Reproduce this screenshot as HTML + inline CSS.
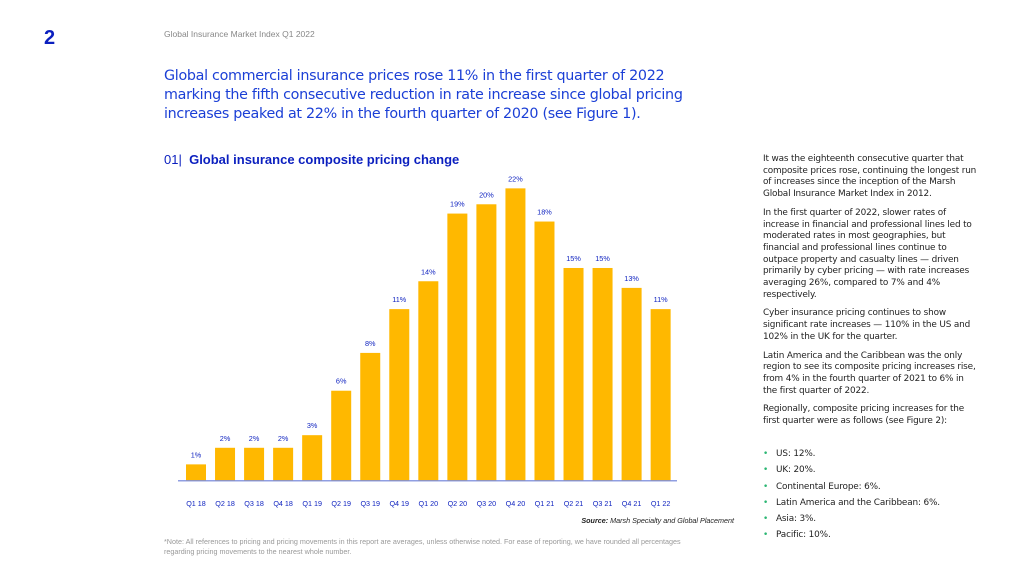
<!DOCTYPE html>
<html><head><meta charset="utf-8"><style>
body{margin:0;width:1024px;height:576px;background:#fff;font-family:"Liberation Sans","DejaVu Sans",sans-serif;position:relative;overflow:hidden}
.a{position:absolute}
#side p{margin:0 0 7px 0}
#side{left:763px;top:154px;width:216px;font-size:8.9px;line-height:11.7px;color:#222;font-family:"DejaVu Sans",sans-serif;letter-spacing:-0.15px}
#side ul{list-style:none;margin:0;padding:0;position:absolute;top:295px;left:0}
#side li{height:16.3px;position:relative;padding-left:13px}
#side li::before{content:"•";color:#2bb673;position:absolute;left:0}
</style></head><body>
<div class="a" style="left:44px;top:27px;font-size:20px;font-weight:bold;color:#0b1fbf">2</div>
<div class="a" style="left:164px;top:29px;font-size:8.5px;color:#888">Global Insurance Market Index Q1 2022</div>
<div class="a" style="left:164px;top:67px;width:545px;font-size:14.3px;line-height:18.8px;color:#1b3fd6;font-family:'DejaVu Sans',sans-serif;letter-spacing:-0.3px">Global commercial insurance prices rose 11% in the first quarter of 2022 marking the fifth consecutive reduction in rate increase since global pricing increases peaked at 22% in the fourth quarter of 2020 (see Figure 1).</div>
<div class="a" style="left:164px;top:152px;font-size:13px;color:#0b1fbf"><span style="font-weight:normal">01|</span> &nbsp;<b>Global insurance composite pricing change</b></div>
<svg class="a" id="chart" style="left:0;top:0" width="760" height="576"></svg>
<div class="a" style="left:540px;top:516px;width:194px;text-align:right;font-size:7.2px;font-style:italic;color:#222"><b>Source:</b> Marsh Specialty and Global Placement</div>
<div class="a" style="left:164px;top:537px;width:535px;font-size:7.2px;line-height:9.5px;color:#999">*Note: All references to pricing and pricing movements in this report are averages, unless otherwise noted. For ease of reporting, we have rounded all percentages regarding pricing movements to the nearest whole number.</div>
<div class="a" id="side">
<p>It was the eighteenth consecutive quarter that composite prices rose, continuing the longest run of increases since the inception of the Marsh Global Insurance Market Index in 2012.</p>
<p>In the first quarter of 2022, slower rates of increase in financial and professional lines led to moderated rates in most geographies, but financial and professional lines continue to outpace property and casualty lines — driven primarily by cyber pricing — with rate increases averaging 26%, compared to 7% and 4% respectively.</p>
<p>Cyber insurance pricing continues to show significant rate increases — 110% in the US and 102% in the UK for the quarter.</p>
<p>Latin America and the Caribbean was the only region to see its composite pricing increases rise, from 4% in the fourth quarter of 2021 to 6% in the first quarter of 2022.</p>
<p>Regionally, composite pricing increases for the first quarter were as follows (see Figure 2):</p>
<ul>
<li>US: 12%.</li><li>UK: 20%.</li><li>Continental Europe: 6%.</li><li>Latin America and the Caribbean: 6%.</li><li>Asia: 3%.</li><li>Pacific: 10%.</li></ul>
</div>
<script>
const categories=["Q1 18","Q2 18","Q3 18","Q4 18","Q1 19","Q2 19","Q3 19","Q4 19","Q1 20","Q2 20","Q3 20","Q4 20","Q1 21","Q2 21","Q3 21","Q4 21","Q1 22"];
const values=[1.2,2.45,2.45,2.45,3.4,6.75,9.6,12.9,15.0,20.1,20.8,22,19.5,16.0,16.0,14.5,12.9];
const valueLabels=["1%","2%","2%","2%","3%","6%","8%","11%","14%","19%","20%","22%","18%","15%","15%","13%","11%"];
const baseY=480.3, pxPer=13.27, x0=186, pitch=29.04, bw=20;
const y=v=>baseY-v*pxPer, x=i=>x0+i*pitch;
const svg=document.getElementById('chart'), NS='http://www.w3.org/2000/svg';
function mk(t,a){const e=document.createElementNS(NS,t);for(const k in a)e.setAttribute(k,a[k]);svg.appendChild(e);return e;}
values.forEach((v,i)=>{
 const r=mk('rect',{x:x(i),y:y(v),width:bw,height:baseY-y(v),fill:'#ffb800'});
 
 
 const t=mk('text',{x:x(i)+bw/2,y:y(v)-7,'text-anchor':'middle','font-size':'7.3',fill:'#0b1fbf'});
 t.textContent=valueLabels[i];
 
 
 const c=mk('text',{x:x(i)+bw/2,y:506,'text-anchor':'middle','font-size':'7.2',fill:'#0b1fbf'});
 c.textContent=categories[i];
 
 
});
const ax=mk('line',{x1:178,x2:677,y1:baseY+0.5,y2:baseY+0.5,stroke:'#6b7fd8','stroke-width':1.2});


</script>
</body></html>
